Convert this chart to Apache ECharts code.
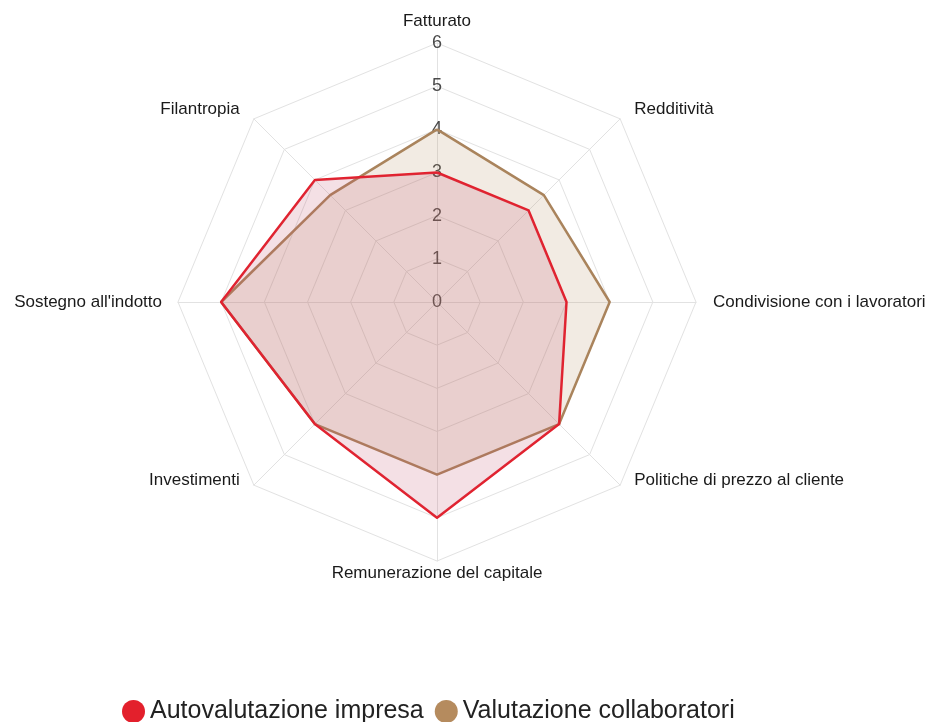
<!DOCTYPE html>
<html>
<head>
<meta charset="utf-8">
<script src="https://cdn.jsdelivr.net/npm/echarts@6/dist/echarts.min.js"></script>
<style>
  html, body { margin: 0; padding: 0; background: #fff; }
  #main { width: 934px; height: 722px; }
</style>
</head>
<body>
<div id="main"></div>
<script>
// assi in senso orario a partire dall'alto
var indicatori = ['Fatturato', 'Redditività', 'Condivisione con i lavoratori', 'Politiche di prezzo al cliente',
  'Remunerazione del capitale', 'Investimenti', "Sostegno all'indotto", 'Filantropia'];
var autovalutazione = [3, 3, 3, 4, 5, 4, 5, 4];
var collaboratori = [4, 3.5, 4, 4, 4, 4, 5, 3.5];
var serieNomi = ['Autovalutazione impresa', 'Valutazione collaboratori'];

var myChart = echarts.init(document.getElementById('main'));

// echarts disegna il radar in senso antiorario: riordino gli assi
var ordine = [0, 7, 6, 5, 4, 3, 2, 1];
function riordina(arr) {
  return ordine.map(function (i) { return arr[i]; });
}

// distanza e spostamento verticale dei nomi (in ordine orario)
var gap = [13, 20, 17, 20, 4, 20, 16, 20];
var stile = ['n', 'up', 'n', 'dn', 'n', 'dn', 'n', 'up'];
var stileNome = {};
indicatori.forEach(function (n, i) { stileNome[n] = stile[i]; });

var indicator = riordina(indicatori).map(function (n, i) {
  var o = { name: n, min: 0, max: 6, nameGap: riordina(gap)[i] };
  // solo il primo asse mostra i numeri
  if (i === 0) o.axisLabel = { show: true };
  return o;
});

option = {
  backgroundColor: '#fff',
  animation: false,
  legend: {
    data: serieNomi,
    left: 117,
    top: 694,
    icon: 'circle',
    itemWidth: 23,
    itemHeight: 23,
    itemGap: 11,
    textStyle: { fontSize: 25, color: '#222', fontFamily: 'Liberation Sans' }
  },
  radar: {
    center: [437, 302],
    radius: 259,
    startAngle: 90,
    splitNumber: 6,
    shape: 'polygon',
    nameGap: 13,
    axisName: {
      color: '#1a1a1a', fontSize: 17, fontFamily: 'Liberation Sans',
      formatter: function (name) {
        return '{' + stileNome[name] + '|' + name + '}';
      },
      rich: {
        n: { color: '#1a1a1a', fontSize: 17, fontFamily: 'Liberation Sans' },
        up: { color: '#1a1a1a', fontSize: 17, fontFamily: 'Liberation Sans', padding: [10, 0, 0, 0] },
        dn: { color: '#1a1a1a', fontSize: 17, fontFamily: 'Liberation Sans', padding: [0, 0, 38, 0] }
      }
    },
    splitLine: { lineStyle: { color: '#e2e2e2', width: 1 } },
    splitArea: { show: false },
    axisLine: { lineStyle: { color: '#e2e2e2' } },
    axisTick: { show: false },
    axisLabel: { show: false, color: '#4a4a4a', fontSize: 18, margin: -5, fontFamily: 'Liberation Sans' },
    indicator: indicator
  },
  series: [{
    type: 'radar',
    symbol: 'none',
    data: [{
      name: serieNomi[1],
      value: riordina(collaboratori),
      itemStyle: { color: '#b58b5e' },
      lineStyle: { color: '#a9835c', width: 2.5 },
      areaStyle: { color: 'rgba(181, 139, 94, 0.25)' }
    }, {
      name: serieNomi[0],
      value: riordina(autovalutazione),
      itemStyle: { color: '#e3202c' },
      lineStyle: { color: '#e3202c', width: 2.5 },
      areaStyle: { color: 'rgba(195, 80, 110, 0.25)' }
    }]
  }]
};
myChart.setOption(option);
</script>
</body>
</html>
